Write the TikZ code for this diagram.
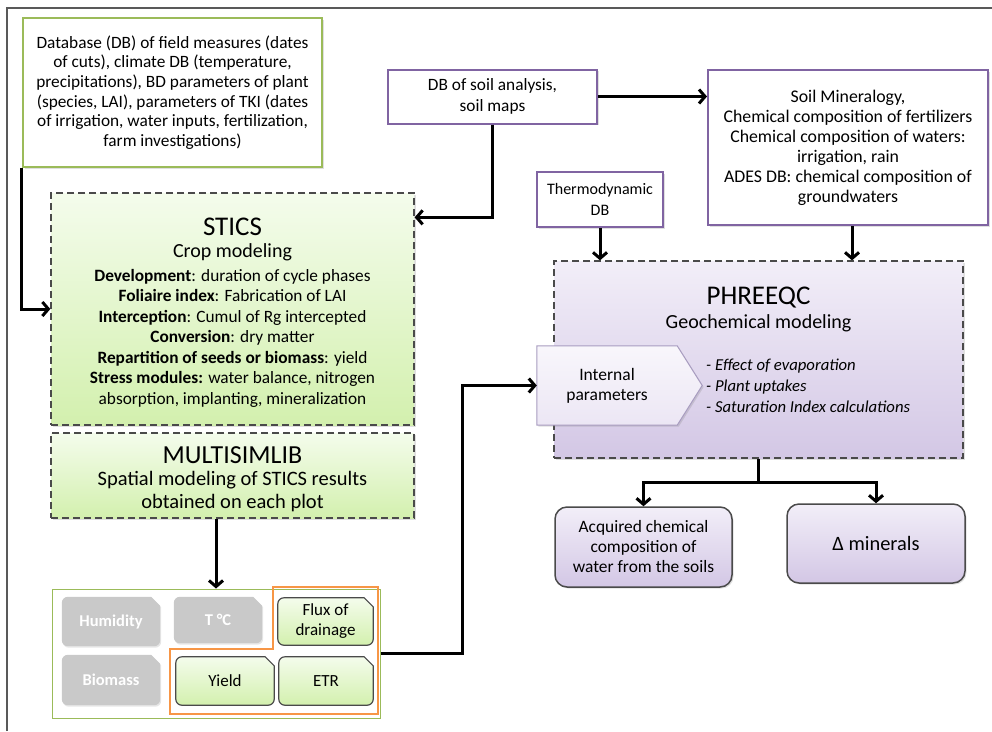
\documentclass[tikz,border=0pt]{standalone}
\usepackage{fontspec}
\setmainfont{Carlito}
\usetikzlibrary{arrows.meta, positioning, calc, shadows, backgrounds}

\definecolor{leafgreen}{HTML}{9BBB59}
\definecolor{plum}{HTML}{8064A2}
\definecolor{dashgray}{HTML}{4A4A4A}
\definecolor{orangeline}{HTML}{F79646}
\definecolor{greentop}{HTML}{F4FCEC}
\definecolor{greenbot}{HTML}{D3F0AE}
\definecolor{lavtop}{HTML}{F2EEF8}
\definecolor{lavbot}{HTML}{D3C7E5}
\definecolor{lavedge}{HTML}{A89CC0}
\definecolor{tagray}{HTML}{C9C9C9}

% tag with a snipped top right corner, drawn behind a named node
\newcommand{\snipframe}[2]{%
  \path[#2] (#1.north) [rounded corners=6pt] -- (#1.north west) -- (#1.south west)
    -- (#1.south east) [sharp corners] -- ([yshift=-9pt]#1.north east)
    -- ([xshift=-9pt]#1.north east) -- cycle;}
% box with a pointed right side
\newcommand{\pointframe}[2]{%
  \path[#2] (#1.north west) -- (#1.north east) -- ([xshift=25pt]#1.east)
    -- (#1.south east) -- (#1.south west) -- cycle;}

\tikzset{
  softshadow/.style={drop shadow={opacity=0.25, shadow xshift=1.5pt, shadow yshift=-1.5pt}},
  greenbox/.style={draw=leafgreen, line width=2pt, fill=white, align=center, softshadow,
    font=\fontsize{17.3}{19.6}\selectfont},
  plumbox/.style={draw=plum, line width=2pt, fill=white, align=center, softshadow,
    font=\fontsize{17.3}{20.5}\selectfont},
  model/.style={draw=dashgray, line width=1.3pt, dash pattern=on 7pt off 4pt, softshadow},
  greenmod/.style={model, top color=greentop, bottom color=greenbot},
  plummod/.style={model, top color=lavtop, bottom color=lavbot},
  modtitle/.style={inner sep=0pt, font=\fontsize{27}{29}\selectfont},
  modsub/.style={inner sep=0pt, font=\fontsize{20}{22}\selectfont},
  result/.style={draw=dashgray, line width=1.5pt, rounded corners=12pt, align=center,
    top color=lavtop, bottom color=lavbot, softshadow, font=\fontsize{17.4}{20}\selectfont},
  tagbox/.style={inner sep=0pt, align=center, font=\fontsize{17}{20}\selectfont},
  tagoff/.style={tagbox, text=white, font=\bfseries\fontsize{16.5}{19}\selectfont},
  arr/.style={->, line width=3pt, black},
  link/.style={line width=3pt, black}
}

\begin{document}
\begin{tikzpicture}[x=1pt, y=-1pt, >={Straight Barb[length=6pt, width=14pt]}]
    \useasboundingbox (0,0) rectangle (992,731);
    \draw[black!65, line width=1.2pt] (7,731) -- (7,8) -- (992,8);

    % Data bases
    \node[greenbox, minimum width=299pt, minimum height=149pt] (dbfield) at (172.5,92.5)
      {Database (DB) of field measures (dates\\of cuts), climate DB (temperature,\\precipitations), BD parameters of plant\\(species, LAI),  parameters of TKI (dates\\of irrigation, water inputs, fertilization,\\farm investigations)};
    \node[plumbox, minimum width=209pt, minimum height=54pt] (soil) at (492.5,96.5)
      {DB of soil analysis,\\soil maps};
    \node[plumbox, minimum width=280pt, minimum height=155pt, font=\fontsize{17.8}{20}\selectfont] (soilmin) at (848,147.5)
      {Soil Mineralogy,\\Chemical composition of fertilizers\\Chemical composition of waters:\\irrigation, rain\\ADES DB: chemical composition of\\groundwaters};
    \node[plumbox, minimum width=126pt, minimum height=55pt, font=\fontsize{16}{21}\selectfont] (thermo) at (600,199.5)
      {Thermodynamic\\DB};

    % Crop modeling
    \node[greenmod, minimum width=363pt, minimum height=232pt] (stics) at (232.5,309) {};
    \node[modtitle] (sticstitle) at (232.5,227) {STICS};
    \node[modsub] (sticssub) at (232.5,252) {Crop modeling};
    \node[inner sep=0pt, align=center, font=\fontsize{17.3}{20.5}\selectfont] (sticstext) at (232.5,338)
      {\textbf{Development}: duration of cycle phases\\
       \textbf{Foliaire index}: Fabrication of LAI\\
       \textbf{Interception}: Cumul of Rg intercepted\\
       \textbf{Conversion}: dry matter\\
       \textbf{Repartition of seeds or biomass}: yield\\
       \textbf{Stress modules:} water balance, nitrogen\\
       absorption, implanting, mineralization};

    \node[greenmod, minimum width=363pt, minimum height=85pt] (multi) at (232.5,475.5) {};
    \node[modtitle, font=\fontsize{26}{28}\selectfont] (multititle) at (232.5,455) {MULTISIMLIB};
    \node[inner sep=0pt, align=center, font=\fontsize{20.5}{23}\selectfont] (multitext) at (232.5,491.5)
      {Spatial modeling of STICS results\\obtained on each plot};

    % Spatial outputs
    \node[draw=leafgreen, line width=1pt, minimum width=328pt, minimum height=129pt] (outputs) at (216,653.5) {};
    \node[tagoff, minimum width=98pt, minimum height=49pt] (humidity) at (111,621.5) {Humidity};
    \node[tagoff, minimum width=88pt, minimum height=46pt] (temp) at (218,620) {T °C};
    \node[tagbox, minimum width=95pt, minimum height=47pt] (flux) at (325.5,621.5) {Flux of\\drainage};
    \node[tagoff, minimum width=98pt, minimum height=50pt] (biomass) at (111,680) {Biomass};
    \node[tagbox, minimum width=98pt, minimum height=48pt] (yield) at (225,681) {Yield};
    \node[tagbox, minimum width=94pt, minimum height=48pt] (etr) at (326,681) {ETR};
    \begin{scope}[on background layer]
      \snipframe{humidity}{fill=tagray, drop shadow={opacity=0.2, shadow xshift=1pt, shadow yshift=-1.5pt}}
      \snipframe{temp}{fill=tagray, drop shadow={opacity=0.2, shadow xshift=1pt, shadow yshift=-1.5pt}}
      \snipframe{biomass}{fill=tagray, drop shadow={opacity=0.2, shadow xshift=1pt, shadow yshift=-1.5pt}}
      \snipframe{flux}{draw=dashgray, line width=1.2pt, top color=greentop, bottom color=greenbot}
      \snipframe{yield}{draw=dashgray, line width=1.2pt, top color=greentop, bottom color=greenbot}
      \snipframe{etr}{draw=dashgray, line width=1.2pt, top color=greentop, bottom color=greenbot}
    \end{scope}
    \draw[orangeline, line width=1.2pt] (273,587) -- (378,587) -- (378,714) -- (170,714)
      -- (170,649) -- (273,649) -- cycle;

    % Geochemical modeling
    \node[modtitle] (phreeqctitle) at (758.5,298) {PHREEQC};
    \node[modsub] (phreeqcsub) at (758.5,323) {Geochemical modeling};
    \node[minimum width=140pt, minimum height=79pt, inner sep=0pt, align=center,
      font=\fontsize{17.5}{20}\selectfont] (internal) at (607,385.5) {Internal\\parameters};
    \node[anchor=west, inner sep=0pt, align=left, font=\itshape\fontsize{16.7}{21}\selectfont] (effects) at (706,386)
      {- Effect of evaporation\\- Plant uptakes\\- Saturation Index calculations};
    \begin{scope}[on background layer]
      \node[plummod, minimum width=409pt, minimum height=197pt] (phreeqc) at (758.5,359.5) {};
      \pointframe{internal}{draw=lavedge, line width=1pt, top color=lavtop!50!white, bottom color=lavtop!80!lavbot, softshadow}
    \end{scope}

    \node[result, minimum width=177pt, minimum height=80pt] (acquired) at (643.5,547)
      {Acquired chemical\\composition of\\water from the soils};
    \node[result, minimum width=178pt, minimum height=79pt, font=\fontsize{20.4}{22}\selectfont] (delta) at (876,543.5)
      {Δ minerals};

    % Connectors
    \draw[arr] ([xshift=-1pt]dbfield.south west) |- (stics.west);
    \draw[arr] (soil.south) |- ([yshift=-25pt]stics.north east);
    \draw[arr] (soil.east) -- (soilmin.west |- soil.east);
    \draw[arr] (thermo.south) -- (thermo.south |- phreeqc.north);
    \draw[arr] ([xshift=4pt]soilmin.south) -- ([xshift=4pt]soilmin.south |- phreeqc.north);
    \draw[arr] (outputs.north |- multi.south) -- (outputs.north);
    \draw[arr] (outputs.east) -- ++(82,0) |- (internal.west);
    \draw[link] (phreeqc.south) -- ++(0,24) coordinate (split);
    \draw[arr] (split) -| (acquired.north);
    \draw[arr] (split) -| (delta.north);
\end{tikzpicture}
\end{document}
